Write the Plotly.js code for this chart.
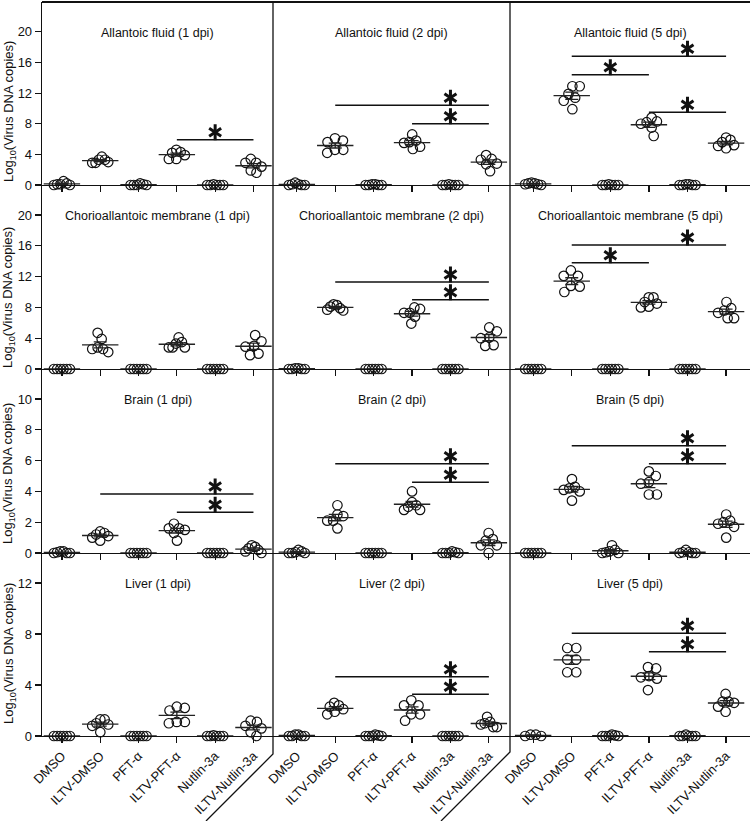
<!DOCTYPE html>
<html>
<head>
<meta charset="utf-8">
<script src="https://cdn.plot.ly/plotly-3.0.1.min.js"></script>
<style>
  html, body { margin: 0; padding: 0; background: #fff; }
  #chart { width: 750px; height: 821px; }
</style>
</head>
<body>
<div id="chart"></div>
<script>
const groups = ['DMSO', 'ILTV-DMSO', 'PFT-α', 'ILTV-PFT-α', 'Nutlin-3a', 'ILTV-Nutlin-3a'];
const tissues = ['Allantoic fluid', 'Chorioallantoic membrane', 'Brain', 'Liver'];
const dpis = ['1 dpi', '2 dpi', '5 dpi'];

// log10 virus DNA copies, one inner array (6 eggs) per group
const allantoic1 = [
  [0, 0.1, 0.2, 0.5, 0.1, 0], [3.7, 3.3, 3.3, 2.9, 2.9, 3.0], [0, 0, 0.1, 0.2, 0, 0],
  [4.6, 4.3, 4.2, 3.9, 3.4, 3.4], [0, 0, 0.1, 0, 0, 0], [3.4, 2.9, 2.9, 2.4, 1.6, 1.9]];
const allantoic2 = [
  [0, 0.1, 0.3, 0, 0.1, 0], [6.1, 5.8, 5.6, 4.6, 4.2, 4.6], [0, 0, 0.1, 0.1, 0, 0],
  [6.6, 5.8, 5.6, 5.5, 5.0, 4.7], [0, 0, 0.1, 0, 0, 0], [3.9, 3.4, 3.3, 2.8, 2.7, 1.8]];
const allantoic5 = [
  [0.1, 0.2, 0.3, 0.2, 0, 0.1], [12.9, 12.9, 11.9, 11.4, 11.0, 9.9], [0, 0, 0.1, 0, 0, 0],
  [8.8, 8.3, 8.2, 8.0, 7.5, 6.4], [0, 0, 0.1, 0.1, 0, 0], [6.2, 5.9, 5.6, 5.2, 5.1, 4.8]];
const cam1 = [
  [0, 0, 0, 0, 0, 0], [4.7, 3.9, 2.8, 2.6, 2.6, 2.2], [0, 0, 0, 0, 0, 0],
  [4.1, 3.5, 3.3, 2.8, 2.8, 2.8], [0, 0, 0, 0, 0, 0], [4.4, 3.6, 3.0, 2.9, 2.0, 1.8]];
const cam2 = [
  [0, 0, 0.1, 0.1, 0, 0], [8.4, 8.3, 8.1, 7.9, 7.7, 7.6], [0, 0, 0, 0, 0, 0],
  [8.0, 7.8, 7.3, 7.3, 6.8, 5.9], [0, 0, 0, 0, 0, 0], [5.4, 4.9, 4.1, 4.0, 3.0, 3.1]];
const cam5 = [
  [0, 0, 0, 0, 0, 0], [12.8, 12.1, 12.1, 10.8, 10.7, 10.0], [0, 0, 0, 0, 0, 0],
  [9.3, 9.3, 8.7, 8.5, 8.1, 8.0], [0, 0, 0, 0, 0, 0], [8.7, 7.9, 7.6, 7.3, 6.6, 6.6]];
const brain1 = [
  [0, 0, 0.05, 0.1, 0.1, 0], [1.4, 1.3, 1.2, 1.1, 1.0, 0.8], [0, 0, 0, 0, 0, 0],
  [1.9, 1.6, 1.6, 1.5, 1.3, 0.8], [0, 0, 0, 0, 0, 0], [0.5, 0.4, 0.3, 0.2, 0.1, 0.0]];
const brain2 = [
  [0, 0, 0.1, 0.2, 0.05, 0], [3.1, 2.5, 2.4, 2.1, 2.1, 1.6], [0, 0, 0, 0, 0, 0],
  [4.0, 3.3, 3.1, 3.0, 2.8, 2.8], [0, 0, 0.05, 0.1, 0, 0], [1.3, 0.9, 0.8, 0.5, 0.5, 0.0]];
const brain5 = [
  [0, 0, 0, 0, 0, 0], [4.8, 4.3, 4.2, 4.1, 4.0, 3.4], [0.5, 0.2, 0.1, 0.05, 0, 0],
  [5.3, 5.0, 4.6, 4.5, 3.8, 3.8], [0.2, 0.05, 0, 0, 0.05, 0], [2.5, 2.1, 2.0, 1.9, 1.7, 1.0]];
const liver1 = [
  [0, 0, 0, 0, 0, 0], [1.3, 1.3, 1.0, 0.9, 0.8, 0.3], [0, 0, 0, 0, 0, 0],
  [2.3, 2.2, 2.0, 1.1, 1.1, 1.0], [0, 0, 0.05, 0, 0, 0], [1.2, 1.1, 0.8, 0.6, 0.3, 0.0]];
const liver2 = [
  [0, 0, 0.1, 0.1, 0, 0], [2.6, 2.4, 2.3, 2.1, 1.9, 1.7], [0, 0, 0.05, 0.1, 0, 0],
  [2.8, 2.4, 2.4, 1.7, 1.7, 1.2], [0, 0, 0, 0, 0, 0], [1.5, 1.1, 1.0, 0.9, 0.7, 0.7]];
const liver5 = [
  [0, 0, 0.1, 0.1], [6.9, 6.9, 6.0, 6.0, 5.0, 5.0], [0, 0, 0.05, 0.1, 0, 0],
  [5.4, 5.3, 4.7, 4.6, 4.5, 3.6], [0, 0, 0.1, 0, 0, 0], [3.3, 2.7, 2.7, 2.6, 2.3, 1.9]];

// significance brackets: [from group, to group, bar height]
const sigAllantoic1 = [[3, 5, 5.9]];
const sigAllantoic2 = [[1, 5, 10.4], [3, 5, 8.0]];
const sigAllantoic5 = [[1, 5, 16.8], [1, 3, 14.4], [3, 5, 9.5]];
const sigCam1 = [];
const sigCam2 = [[1, 5, 11.3], [3, 5, 9.0]];
const sigCam5 = [[1, 5, 16.1], [1, 3, 13.8]];
const sigBrain1 = [[1, 5, 3.83], [3, 5, 2.64]];
const sigBrain2 = [[1, 5, 5.8], [3, 5, 4.6]];
const sigBrain5 = [[1, 5, 6.97], [3, 5, 5.8]];
const sigLiver1 = [];
const sigLiver2 = [[1, 5, 4.65], [3, 5, 3.27]];
const sigLiver5 = [[1, 5, 8.05], [3, 5, 6.6]];

const yTicks = [[0, 4, 8, 12, 16, 20], [0, 4, 8, 12, 16, 20], [0, 2, 4, 6, 8, 10], [0, 4, 8, 12]];

const panels = [
  [allantoic1, allantoic2, allantoic5],
  [cam1, cam2, cam5],
  [brain1, brain2, brain5],
  [liver1, liver2, liver5],
];
const sigs = [
  [sigAllantoic1, sigAllantoic2, sigAllantoic5],
  [sigCam1, sigCam2, sigCam5],
  [sigBrain1, sigBrain2, sigBrain5],
  [sigLiver1, sigLiver2, sigLiver5],
];

// ---- geometry (pixels of the 750x821 page) ---------------------------
const L = 42, T = 2, B = 85, PW = 708, PH = 734;
const colPx = [42, 273, 510, 750];
const rowPx = [2, 185, 369, 553, 736];
const xRanges = [[-0.52, 5.51], [-0.62, 5.55], [-0.6, 5.62]];
const yTop = [23.9, 23.9, 11.95, 14.35];
const px2x = (px) => (px - L) / PW;
const py2y = (py) => (736 - py) / PH;

const FONT = 'Liberation Sans, Arial, sans-serif';
const INK = '#111';

const mean = (a) => a.reduce((s, v) => s + v, 0) / a.length;
const sem = (a) => {
  const m = mean(a);
  const sd = Math.sqrt(a.reduce((s, v) => s + (v - m) ** 2, 0) / (a.length - 1));
  return sd / Math.sqrt(a.length);
};

// deterministic beeswarm: offsets in px, then squeezed and converted to x units
function swarm(vals, pyu, pxu) {
  const D = 9;
  const order = vals.map((_, i) => i).sort((a, b) => vals[b] - vals[a]);
  const placed = [];
  const off = new Array(vals.length).fill(0);
  order.forEach((i) => {
    const y = vals[i] * pyu;
    const cands = [0];
    placed.forEach((p) => {
      const dy = Math.abs(p.y - y);
      if (dy < D) {
        const dx = Math.sqrt(D * D - dy * dy) + 0.01;
        cands.push(p.x + dx, p.x - dx);
      }
    });
    cands.sort((a, b) => Math.abs(a) - Math.abs(b));
    const x = cands.find((c) => placed.every((p) => (p.x - c) ** 2 + (p.y - y) ** 2 >= D * D - 0.1));
    placed.push({ x, y });
    off[i] = x;
  });
  const lo = Math.min(...off), hi = Math.max(...off);
  const mid = (lo + hi) / 2, half = (hi - lo) / 2;
  const k = half > 8 ? 8 / half : 1;
  return off.map((o) => ((o - mid) * k) / pxu);
}

const traces = [];
const layout = {
  width: 750, height: 821,
  margin: { l: L, r: 0, t: T, b: B },
  paper_bgcolor: '#fff', plot_bgcolor: 'rgba(0,0,0,0)',
  showlegend: false,
  font: { family: FONT, color: INK, size: 13 },
  annotations: [],
  shapes: [],
};

for (let r = 0; r < 4; r++) {
  for (let c = 0; c < 3; c++) {
    const n = r * 3 + c + 1;
    const xa = 'x' + (n === 1 ? '' : n), ya = 'y' + (n === 1 ? '' : n);
    const pyu = (rowPx[r + 1] - rowPx[r]) / yTop[r];
    const pxu = (colPx[c + 1] - colPx[c]) / (xRanges[c][1] - xRanges[c][0]);
    const data = panels[r][c];

    // individual eggs
    const px = [], py = [];
    data.forEach((vals, g) => {
      const offs = swarm(vals, pyu, pxu);
      vals.forEach((v, i) => { px.push(g + offs[i]); py.push(v); });
    });
    traces.push({
      type: 'scatter', mode: 'markers', xaxis: xa, yaxis: ya, x: px, y: py,
      cliponaxis: false, hoverinfo: 'skip',
      marker: { symbol: 'circle-open', size: 9.5, color: INK, line: { width: 1.2, color: INK } },
    });

    // mean ± SEM
    traces.push({
      type: 'scatter', mode: 'markers', xaxis: xa, yaxis: ya,
      x: groups.map((_, g) => g), y: data.map(mean), cliponaxis: false,
      marker: { symbol: 'line-ew', size: 26, color: '#222', line: { width: 1.4, color: '#222' } },
      error_y: { type: 'data', array: data.map(sem), visible: true, width: 6.5, thickness: 1.3, color: '#222' },
    });

    // significance bars and stars
    const s = sigs[r][c];
    if (s.length) {
      const lx = [], ly = [];
      s.forEach(([a, b, h]) => { lx.push(a, b, null); ly.push(h, h, null); });
      traces.push({
        type: 'scatter', mode: 'lines', xaxis: xa, yaxis: ya, x: lx, y: ly,
        line: { color: INK, width: 1.5 }, hoverinfo: 'skip',
      });
      ['y-up-open', 'y-down-open'].forEach((sym) => {
        traces.push({
          type: 'scatter', mode: 'markers', xaxis: xa, yaxis: ya,
          x: s.map((d) => d[1] - 1), y: s.map((d) => d[2] + 7.5 / pyu),
          cliponaxis: false, hoverinfo: 'skip',
          marker: { symbol: sym, size: 10, color: INK, line: { color: INK, width: 3 } },
        });
      });
    }

    layout['xaxis' + (n === 1 ? '' : n)] = {
      domain: [px2x(colPx[c]), px2x(colPx[c + 1])], anchor: ya,
      range: xRanges[c], tickmode: 'array',
      tickvals: groups.map((_, g) => g), ticktext: groups,
      showticklabels: r === 3, tickangle: -45, tickfont: { size: 13, family: FONT, color: INK },
      ticks: 'outside', ticklen: 6, tickwidth: 1.2, tickcolor: INK,
      showline: true, linecolor: INK, linewidth: 1.3,
      showgrid: false, zeroline: false, fixedrange: true,
    };
    layout['yaxis' + (n === 1 ? '' : n)] = {
      domain: [py2y(rowPx[r + 1]), py2y(rowPx[r])], anchor: xa,
      range: [0, yTop[r]], tickmode: 'array', tickvals: yTicks[r],
      showticklabels: c === 0, ticks: c === 0 ? 'outside' : '',
      ticklen: 6, tickwidth: 1.2, tickcolor: INK,
      tickfont: { size: 13, family: FONT, color: INK },
      showline: c === 0, linecolor: INK, linewidth: 1.3,
      showgrid: false, zeroline: false, fixedrange: true,
    };

    layout.annotations.push({
      xref: 'paper', yref: 'paper',
      x: px2x((colPx[c] + colPx[c + 1]) / 2), y: py2y(rowPx[r] + 31),
      text: `${tissues[r]} (${dpis[c]})`, showarrow: false,
      xanchor: 'center', yanchor: 'middle',
      font: { size: 12.5, family: FONT, color: INK },
    });
  }
}

// y titles, one per row
const yTitleCentres = [112, 298, 474, 654];
yTitleCentres.forEach((py) => {
  layout.annotations.push({
    xref: 'paper', yref: 'paper', x: px2x(9), y: py2y(py),
    text: 'Log<sub>10</sub>(Virus DNA copies)', showarrow: false, textangle: -90,
    xanchor: 'center', yanchor: 'middle',
    font: { size: 13, family: FONT, color: INK },
  });
});

// frame: top border and column dividers that bend under the rotated labels
const line = { color: INK, width: 1.3 };
layout.shapes.push({ type: 'line', xref: 'paper', yref: 'paper', x0: 0, x1: 1, y0: 1, y1: 1, line: { color: INK, width: 2 } });
layout.shapes.push({
  type: 'path', xref: 'paper', yref: 'paper', line,
  path: `M${px2x(273)},${py2y(2)} L${px2x(273)},${py2y(754)} L${px2x(206)},${py2y(821)}`,
});
layout.shapes.push({
  type: 'path', xref: 'paper', yref: 'paper', line,
  path: `M${px2x(510)},${py2y(2)} L${px2x(510)},${py2y(752)} L${px2x(441)},${py2y(821)}`,
});

Plotly.newPlot('chart', traces, layout, { displayModeBar: false, staticPlot: true });
</script>
</body>
</html>
